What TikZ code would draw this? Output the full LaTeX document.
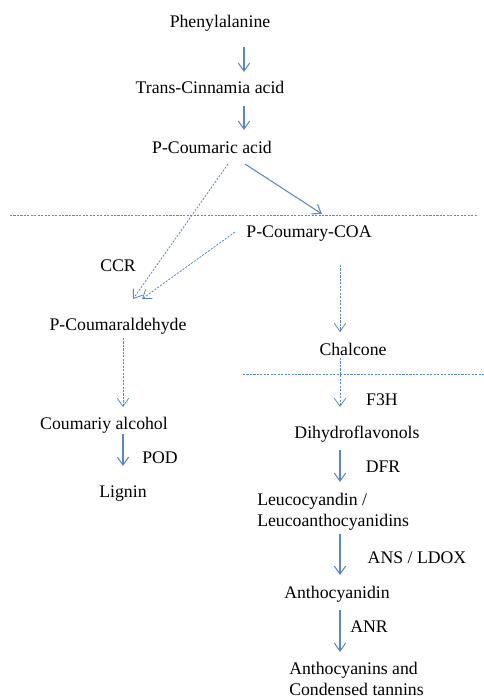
\documentclass[tikz,border=0pt]{standalone}
\usepackage{fontspec}
\setmainfont{Liberation Serif}
\usetikzlibrary{arrows.meta,calc}
\definecolor{pathblue}{RGB}{88,135,200}
\begin{document}
\begin{tikzpicture}[x=0.75pt,y=-0.75pt,
  every node/.style={inner sep=0pt,anchor=base,font=\fontsize{13.3}{15.6}\selectfont},
  flow/.style={draw=pathblue,line width=0.8pt,-{Straight Barb[length=6pt,width=8.5pt]}},
  dflow/.style={flow,line width=0.6pt,dash pattern=on 1.6pt off 1pt},
  sepline/.style={draw=pathblue,line width=0.6pt,dash pattern=on 1.6pt off 1pt}]
\useasboundingbox (0,0) rectangle (484,697);

\node (phe) at (220,27) {Phenylalanine};
\node (tca) at (210,93) {Trans-Cinnamia\ acid};
\node (pca) at (212,153) {P-Coumaric acid};
\node (coa) at (309,237) {P-Coumary-COA};
\node (ccr) at (118,271) {CCR};
\node (cald) at (118,330) {P-Coumaraldehyde};
\node (chal) at (353,355) {Chalcone};
\node (calc) at (104,429) {Coumariy alcohol};
\node (pod) at (160,463) {POD};
\node (lig) at (123,497) {Lignin};
\node (f3h) at (382,405) {F3H};
\node (dhf) at (357,438) {Dihydroflavonols};
\node (dfr) at (383,472) {DFR};
\node (leuc) [anchor=base west,align=left] at (257,526) {Leucocyandin /\\Leucoanthocyanidins};
\node (ans) at (417,563) {ANS / LDOX};
\node (anth) at (337,598) {Anthocyanidin};
\node (anr) at (369,632) {ANR};
\node (anc) [anchor=base west,align=left] at (289,695) {Anthocyanins and\\Condensed tannins};

\draw [sepline] (10,215) -- (478,215);
\draw [sepline] (243,374) -- (484,374);

\draw [flow] ($(phe.base)+(24,20)$) -- ($(tca.base)+(34,-21)$);
\draw [flow] ($(tca.base)+(34,13)$) -- ($(pca.base)+(32,-23)$);
\draw [flow] ($(pca.base)+(33,11)$) -- ($(coa.base)+(13,-23)$);
\draw [dflow] ($(pca.base)+(16,11)$) -- ($(cald.base)+(15,-31)$);
\draw [dflow] ($(coa.base)+(-74,-5)$) -- ($(cald.base)+(24,-31)$);

\draw [dflow] ($(cald.base)+(5,8)$) -- ($(calc.base)+(19,-22)$);
\draw [flow] ($(calc.base)+(19,5)$) -- ($(lig.base)+(0,-31)$);

\draw [dflow] ($(coa.base)+(31,28)$) -- ($(chal.base)+(-13,-23)$);
\draw [dflow] ($(chal.base)+(-13,3)$) -- ($(dhf.base)+(-17,-31)$);
\draw [flow] ($(dhf.base)+(-17,12)$) -- ($(leuc.base west)+(83,-44)$);
\draw [flow] ($(leuc.base west)+(83,8)$) -- ($(anth.base)+(3,-23)$);
\draw [flow] ($(anth.base)+(3,12)$) -- ($(anc.base west)+(51,-43)$);
\end{tikzpicture}
\end{document}
